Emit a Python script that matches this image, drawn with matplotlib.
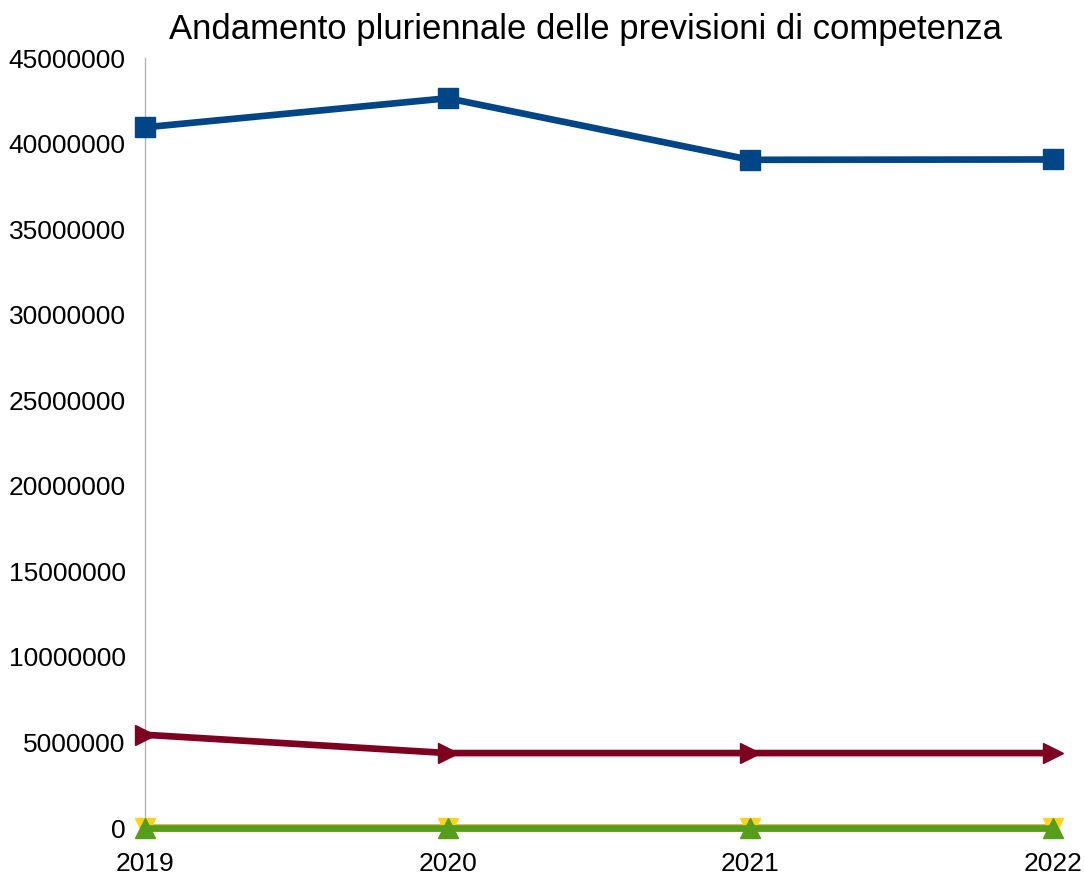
import matplotlib.pyplot as plt
import numpy as np

plt.rcParams['font.family'] = ['Liberation Sans', 'DejaVu Sans']

# Data
years = ['2019', '2020', '2021', '2022']
serie_blu = [40950000, 42650000, 39050000, 39070000]
serie_rossa = [5450000, 4380000, 4380000, 4380000]
serie_arancio = [0, 0, 0, 0]
serie_gialla = [0, 0, 0, 0]
serie_verde = [0, 0, 0, 0]


def create_plot():
    fig = plt.figure(figsize=(10.85, 8.75), dpi=100)
    ax = fig.add_axes([0.1336, 0.0537, 0.8369, 0.88])

    x = np.arange(len(years))

    ax.plot(x, serie_blu, color='#004586', lw=4.8, marker='s', ms=14,
            clip_on=False, zorder=5)
    ax.plot(x, serie_rossa, color='#7e0021', lw=4.8, marker='>', ms=15,
            clip_on=False, zorder=5)
    ax.plot(x, serie_arancio, color='#ff420e', lw=4, marker='D', ms=5,
            clip_on=False, zorder=3)
    ax.plot(x, serie_gialla, color='#d9b53a', lw=5.6, marker='v', ms=15,
            mfc='#ffd320', mec='#ffd320', clip_on=False, zorder=3)
    ax.plot(x, serie_verde, color='#579d1c', lw=4.8, marker='^', ms=15,
            clip_on=False, zorder=4)

    ax.set_xlim(0, len(years) - 1)
    ax.set_ylim(0, 45000000)
    ax.set_yticks(np.arange(0, 45000001, 5000000))
    ax.set_yticklabels([str(v) for v in range(0, 45000001, 5000000)])
    ax.set_xticks(x)
    ax.set_xticklabels(years)
    ax.tick_params(axis='both', length=0, labelsize=19)
    ax.tick_params(axis='y', pad=14)
    ax.tick_params(axis='x', pad=17)

    for side in ['top', 'right', 'bottom']:
        ax.spines[side].set_visible(False)
    ax.spines['left'].set_color('#b3b3b3')
    ax.spines['left'].set_linewidth(1)

    fig.text(0.540, 0.955, 'Andamento pluriennale delle previsioni di competenza',
             fontsize=25, ha='center', va='baseline')
    return fig


if __name__ == "__main__":
    fig = create_plot()
    fig.savefig('out.png', dpi=100)
